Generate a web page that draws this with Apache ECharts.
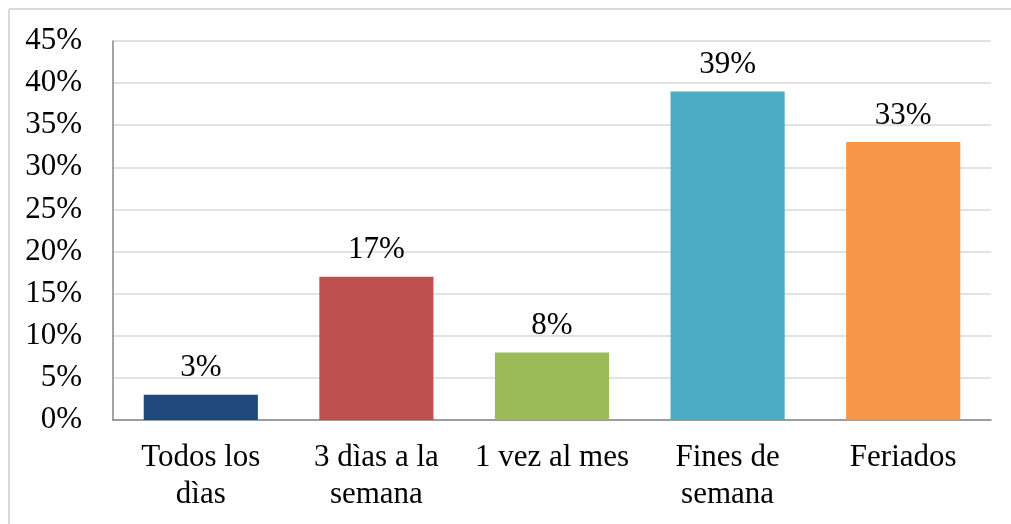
<!DOCTYPE html>
<html>
<head>
<meta charset="utf-8">
<script src="https://cdn.jsdelivr.net/npm/echarts@6/dist/echarts.min.js"></script>
<style>
    html, body { margin: 0; padding: 0; background: #fff; }
    #main { width: 1011px; height: 524px; }
</style>
</head>
<body>
<div id="main"></div>
<script>
var categories = ["Todos los\ndìas", "3 dìas a la\nsemana", "1 vez al mes", "Fines de\nsemana", "Feriados"];
var values = [3, 17, 8, 39, 33];
var barColors = ["#1F497D", "#C0504D", "#9BBB59", "#4BACC6", "#F79646"];

var font = "'Liberation Serif', 'Times New Roman', serif";

function renderBar(id) {
    //barras verticales
    var data = values.map((v, i) => ({
        value: v,
        itemStyle: { color: barColors[i] }
    }));
    var myChart = echarts.init(document.getElementById(id));
    var borde = { stroke: "#d9d9d9", lineWidth: 2 };
    var option = {
        animation: false,
        backgroundColor: "#FFFFFF",
        graphic: [{
            type: "line",
            shape: { x1: 9, y1: 9, x2: 1011, y2: 9 },
            style: borde,
            silent: true
        }, {
            type: "line",
            shape: { x1: 9, y1: 9, x2: 9, y2: 524 },
            style: borde,
            silent: true
        }],
        grid: {
            left: 113,
            right: 20,
            top: 41,
            bottom: 104
        },
        xAxis: {
            type: "category",
            data: categories,
            axisTick: { show: false },
            axisLine: { lineStyle: { color: "#868686", width: 1.5 } },
            axisLabel: {
                interval: 0,
                margin: 19,
                color: "#000",
                fontFamily: font,
                fontSize: 31,
                lineHeight: 37
            }
        },
        yAxis: {
            type: "value",
            min: 0,
            max: 45,
            interval: 5,
            axisLine: { show: true, lineStyle: { color: "#868686", width: 1.5 } },
            axisTick: { show: false },
            splitLine: { lineStyle: { color: "#d9d9d9", width: 1.5 } },
            axisLabel: {
                margin: 31,
                color: "#000",
                fontFamily: font,
                fontSize: 31,
                formatter: "{value}%"
            }
        },
        series: [{
            type: "bar",
            barWidth: "65%",
            data: data,
            label: {
                show: true,
                position: "top",
                distance: 11,
                color: "#000",
                fontFamily: font,
                fontSize: 31,
                formatter: "{c}%"
            }
        }]
    };
    myChart.setOption(option);
}

renderBar("main");
</script>
</body>
</html>
